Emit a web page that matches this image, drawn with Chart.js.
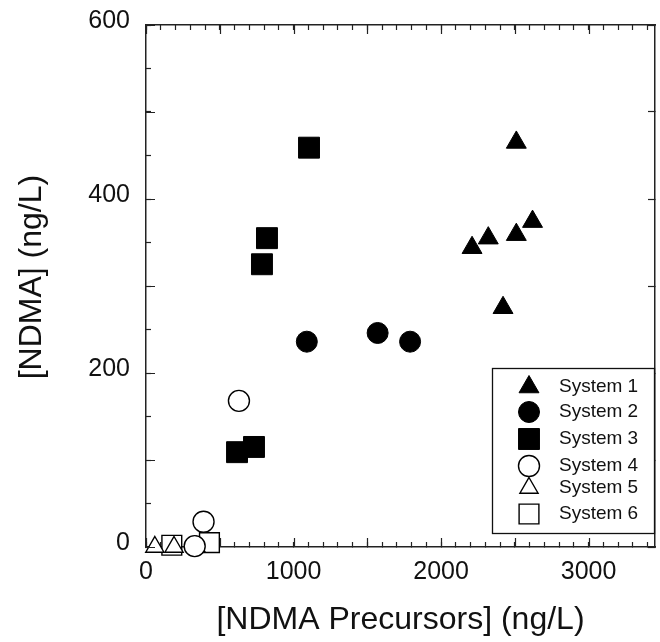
<!DOCTYPE html>
<html>
<head>
<meta charset="utf-8">
<script src="https://cdn.jsdelivr.net/npm/chart.js@4/dist/chart.umd.min.js"></script>
<style>
  html, body { margin: 0; padding: 0; background: #fff; }
  #wrap { width: 660px; height: 642px; }
</style>
</head>
<body>
<div id="wrap"><canvas id="c" width="660" height="642"></canvas></div>
<script>
// ---- data ----
const seriesNames = ['System 1', 'System 2', 'System 3', 'System 4', 'System 5', 'System 6'];
const sys1X = [2510, 2620, 2510, 2320, 2210, 2420];
const sys1Y = [465, 374, 359, 355, 344, 275];
const sys2X = [1090, 1570, 1790];
const sys2Y = [236, 246, 236];
const sys3X = [1105, 820, 786, 617, 732];
const sys3Y = [459, 355, 325, 109, 115];
const sys4X = [630, 330, 390];
const sys4Y = [168, 1, 29];
const sys5X = [60, 190, 340];
const sys5Y = [0, 0, 0];
const sys6X = [175, 430];
const sys6Y = [2, 5];
const xTickLabels = [0, 1000, 2000, 3000];
const yTickLabels = [0, 200, 400, 600];
const xMajorTicks = [0, 500, 1000, 1500, 2000, 2500, 3000];
const yMajorTicks = [0, 100, 200, 300, 400, 500, 600];

const pts = (xs, ys) => xs.map((x, i) => ({ x: x, y: ys[i] }));

const styles = [
  { pointStyle: 'triangle', radius: 11.5, fill: '#000' },
  { pointStyle: 'circle',   radius: 10.5, fill: '#000' },
  { pointStyle: 'rect',     radius: 14.8, fill: '#000' },
  { pointStyle: 'circle',   radius: 10.5, fill: '#fff' },
  { pointStyle: 'triangle', radius: 10.5, fill: '#fff' },
  { pointStyle: 'rect',     radius: 14,   fill: '#fff' }
];
const allData = [pts(sys1X, sys1Y), pts(sys2X, sys2Y), pts(sys3X, sys3Y),
                 pts(sys4X, sys4Y), pts(sys5X, sys5Y), pts(sys6X, sys6Y)];

const datasets = allData.map((d, i) => ({
  label: seriesNames[i],
  data: d,
  clip: false,
  pointStyle: styles[i].pointStyle,
  pointRadius: styles[i].radius,
  pointHoverRadius: styles[i].radius,
  pointBackgroundColor: styles[i].fill,
  pointBorderColor: '#000',
  pointBorderWidth: styles[i].fill === '#fff' ? 1.4 : 1,
  showLine: false
}));

const FONT = "'Liberation Sans', Arial, Helvetica, sans-serif";
const AX = '#222';

const noPad = s => { s.paddingTop = 0; s.paddingBottom = 0; s.paddingLeft = 0; s.paddingRight = 0; };

const bgPlugin = {
  id: 'bg',
  beforeDraw(chart) {
    const ctx = chart.ctx;
    ctx.save();
    ctx.fillStyle = '#fff';
    ctx.fillRect(0, 0, chart.width, chart.height);
    ctx.restore();
  }
};

const majorTickPlugin = {
  id: 'majorTicks',
  afterDraw(chart) {
    const { ctx, chartArea: a, scales } = chart;
    ctx.save();
    ctx.strokeStyle = AX;
    ctx.lineWidth = 1.2;
    ctx.beginPath();
    xMajorTicks.forEach(v => {
      const px = Math.round(scales.x.getPixelForValue(v)) + 0.5;
      ctx.moveTo(px, a.bottom); ctx.lineTo(px, a.bottom - 9);
      ctx.moveTo(px, a.top); ctx.lineTo(px, a.top + 9);
    });
    yMajorTicks.forEach(v => {
      const py = Math.round(scales.y.getPixelForValue(v)) + 0.5;
      ctx.moveTo(a.left, py); ctx.lineTo(a.left + 9, py);
    });
    ctx.stroke();
    ctx.restore();
  }
};

const legendPlugin = {
  id: 'boxLegend',
  afterDraw(chart) {
    const { ctx, chartArea: a } = chart;
    const w = 162, h = 165;
    const x0 = a.right - w - 1, y0 = a.bottom - 179;
    const rows = [19, 44, 71, 98, 120, 146];
    ctx.save();
    ctx.fillStyle = '#fff';
    ctx.fillRect(x0, y0, w, h);
    ctx.strokeStyle = '#111';
    ctx.lineWidth = 1.3;
    ctx.strokeRect(x0 + 0.5, y0 + 0.5, w, h);
    chart.data.datasets.forEach((ds, i) => {
      const cy = y0 + rows[i];
      ctx.fillStyle = ds.pointBackgroundColor;
      ctx.strokeStyle = '#000';
      ctx.lineWidth = ds.pointBorderWidth;
      Chart.helpers.drawPoint(ctx, {
        pointStyle: ds.pointStyle, radius: ds.pointRadius, rotation: 0,
        borderWidth: ds.pointBorderWidth
      }, x0 + 37, cy);
      ctx.fillStyle = '#111';
      ctx.font = '19px ' + FONT;
      ctx.textAlign = 'left';
      ctx.textBaseline = 'middle';
      ctx.fillText(ds.label, x0 + 67, cy);
    });
    ctx.restore();
  }
};

new Chart(document.getElementById('c'), {
  type: 'scatter',
  data: { datasets: datasets },
  plugins: [bgPlugin, majorTickPlugin, legendPlugin],
  options: {
    responsive: false,
    animation: false,
    events: [],
    layout: { autoPadding: false, padding: { top: 25, right: 5, left: 0, bottom: 0 } },
    plugins: { legend: { display: false }, tooltip: { enabled: false } },
    scales: {
      x: {
        type: 'linear', position: 'bottom', min: 0, max: 3450,
        ticks: {
          stepSize: 100, autoSkip: false, includeBounds: false, maxRotation: 0,
          padding: 15, color: '#111', font: { family: FONT, size: 25 },
          callback: v => xTickLabels.includes(v) ? String(v) : ''
        },
        grid: { drawOnChartArea: false, tickLength: -5, tickColor: AX, tickWidth: 1.2 },
        border: { color: AX, width: 1.5 },
        title: { display: true, text: '[NDMA Precursors] (ng/L)', color: '#111',
                 font: { family: FONT, size: 32 }, padding: { top: 0, bottom: 3 } },
        afterFit: s => { s.height = 95; noPad(s); }
      },
      x2: {
        type: 'linear', position: 'top', min: 0, max: 3450,
        ticks: { display: false, stepSize: 100, autoSkip: false, includeBounds: false },
        grid: { drawOnChartArea: false, tickLength: -5, tickColor: AX, tickWidth: 1.2 },
        border: { color: AX, width: 1.5 },
        afterFit: s => { s.height = 0; noPad(s); }
      },
      y: {
        type: 'linear', position: 'left', min: 0, max: 600,
        ticks: {
          stepSize: 50, autoSkip: false, includeBounds: false,
          padding: 21, labelOffset: -4, color: '#111', font: { family: FONT, size: 25 },
          callback: v => yTickLabels.includes(v) ? String(v) : ''
        },
        grid: { drawOnChartArea: false, tickLength: -5, tickColor: AX, tickWidth: 1.2 },
        border: { color: AX, width: 1.5 },
        title: { display: true, text: '  [NDMA] (ng/L)', color: '#111',
                 font: { family: FONT, size: 32 }, padding: { top: 13, bottom: 0 } },
        afterFit: s => { s.width = 146; noPad(s); }
      },
      y2: {
        type: 'linear', position: 'right', min: 0, max: 600,
        ticks: { display: false, stepSize: 100, autoSkip: false, includeBounds: false },
        grid: { drawOnChartArea: false, tickLength: -7, tickColor: AX, tickWidth: 1.2 },
        border: { color: AX, width: 1.5 },
        afterFit: s => { s.width = 0; noPad(s); }
      }
    }
  }
});
</script>
</body>
</html>
